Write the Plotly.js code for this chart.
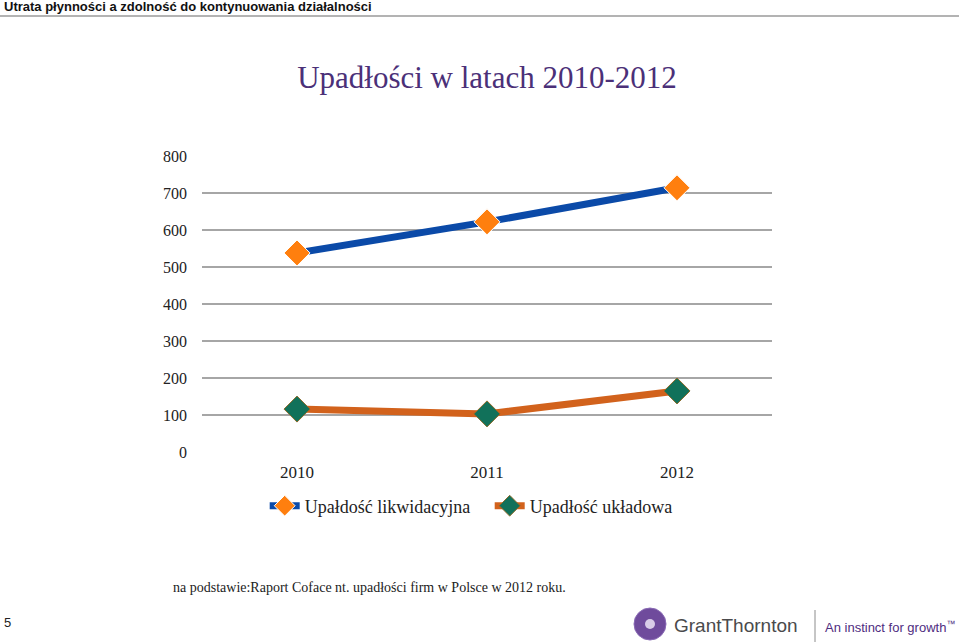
<!DOCTYPE html>
<html>
<head>
<meta charset="utf-8">
<script src="https://cdn.plot.ly/plotly-3.0.1.min.js"></script>
<style>html,body{margin:0;padding:0;background:#fff;}#chart{width:960px;height:644px;}</style>
</head>
<body>
<div id="chart"></div>
<script>
const years = ['2010', '2011', '2012'];
const likwidacyjna = [538, 622, 714];
const ukladowa = [116, 103, 165];
const seriesNames = ['Upałdość likwidacyjna', 'Upadłość układowa'];
const yTicks = [0, 100, 200, 300, 400, 500, 600, 700, 800];

const serif = 'Liberation Serif, DejaVu Serif, serif';
const sans = 'Liberation Sans, Arial, sans-serif';

const traces = [
  {
    x: years, y: likwidacyjna, name: seriesNames[0], type: 'scatter', mode: 'lines+markers',
    line: {color: '#0b4aa8', width: 7},
    marker: {symbol: 'diamond', size: 20, color: '#ff7f0e', line: {color: '#ffffff', width: 1}}
  },
  {
    x: years, y: ukladowa, name: seriesNames[1], type: 'scatter', mode: 'lines+markers',
    line: {color: '#d2621c', width: 7},
    marker: {symbol: 'diamond', size: 20, color: '#11715a', line: {color: '#8a6a2a', width: 1}}
  }
];

const layout = {
  width: 960, height: 644,
  margin: {l: 202, r: 188, t: 156, b: 192},
  paper_bgcolor: '#ffffff', plot_bgcolor: '#ffffff',
  showlegend: true,
  title: {
    text: 'Upadłości w latach 2010-2012',
    font: {family: serif, size: 31, color: '#4b3078'},
    x: 0.5, xanchor: 'center', y: 0.88, yanchor: 'middle', xref: 'paper', yref: 'container'
  },
  xaxis: {
    type: 'category', range: [-0.5, 2.5], showgrid: false, zeroline: false, showline: false,
    ticks: '', tickfont: {family: serif, size: 17, color: '#222'}, ticklabelstandoff: 8
  },
  yaxis: {
    range: [0, 800], tickvals: yTicks, showgrid: true, gridcolor: '#a6a6a6', gridwidth: 1.5,
    zeroline: false, showline: false, ticks: '',
    tickfont: {family: serif, size: 16, color: '#222'}, ticklabelstandoff: 14
  },
  legend: {
    orientation: 'h', x: 0.11, xanchor: 'left', y: -0.12, yanchor: 'top',
    font: {family: serif, size: 18, color: '#222'}, itemwidth: 30,
    entrywidth: 180, bgcolor: 'rgba(0,0,0,0)'
  },
  shapes: [
    {type: 'line', xref: 'paper', yref: 'paper', x0: -202/570, x1: 757/570, y0: (452-16)/296, y1: (452-16)/296,
     line: {color: '#b3b3b3', width: 2}},
    {type: 'circle', xref: 'paper', yref: 'paper', x0: (634-202)/570, x1: (666-202)/570,
     y0: (452-640)/296, y1: (452-608)/296, fillcolor: '#6f4b9c', line: {color: '#8a6bb5', width: 1}},
    {type: 'circle', xref: 'paper', yref: 'paper', x0: (645-202)/570, x1: (655-202)/570,
     y0: (452-629)/296, y1: (452-619)/296, fillcolor: '#d9cce8', line: {width: 0}},
    {type: 'line', xref: 'paper', yref: 'paper', x0: (815-202)/570, x1: (815-202)/570,
     y0: (452-642)/296, y1: (452-610)/296, line: {color: '#8c8c8c', width: 1}}
  ],
  annotations: [
    {text: '<b>Utrata płynności a zdolność do kontynuowania działalności</b>', xref: 'paper', yref: 'paper',
     x: -202/570 + 2/570, xanchor: 'left', y: (452-6)/296, yanchor: 'middle', showarrow: false,
     font: {family: sans, size: 13, color: '#111'}},
    {text: 'na podstawie:Raport Coface nt. upadłości firm w Polsce w 2012 roku.', xref: 'paper', yref: 'paper',
     x: (369-202)/570, xanchor: 'center', y: (452-587)/296, yanchor: 'middle', showarrow: false,
     font: {family: serif, size: 14, color: '#222'}},
    {text: '5', xref: 'paper', yref: 'paper', x: (2-202)/570, xanchor: 'left', y: (452-622)/296, yanchor: 'middle',
     showarrow: false, font: {family: sans, size: 13, color: '#222'}},
    {text: 'GrantThornton', xref: 'paper', yref: 'paper', x: (672-202)/570, xanchor: 'left', y: (452-625)/296,
     yanchor: 'middle', showarrow: false,
     font: {family: sans, size: 19, color: '#4a4a4c'}},
    {text: 'An instinct for growth<sup>™</sup>', xref: 'paper', yref: 'paper', x: (823-202)/570, xanchor: 'left',
     y: (452-627)/296, yanchor: 'middle', showarrow: false,
     font: {family: sans, size: 13, color: '#4f2d7f'}}
  ]
};

Plotly.newPlot('chart', traces, layout, {displayModeBar: false, staticPlot: true});
</script>
</body>
</html>
